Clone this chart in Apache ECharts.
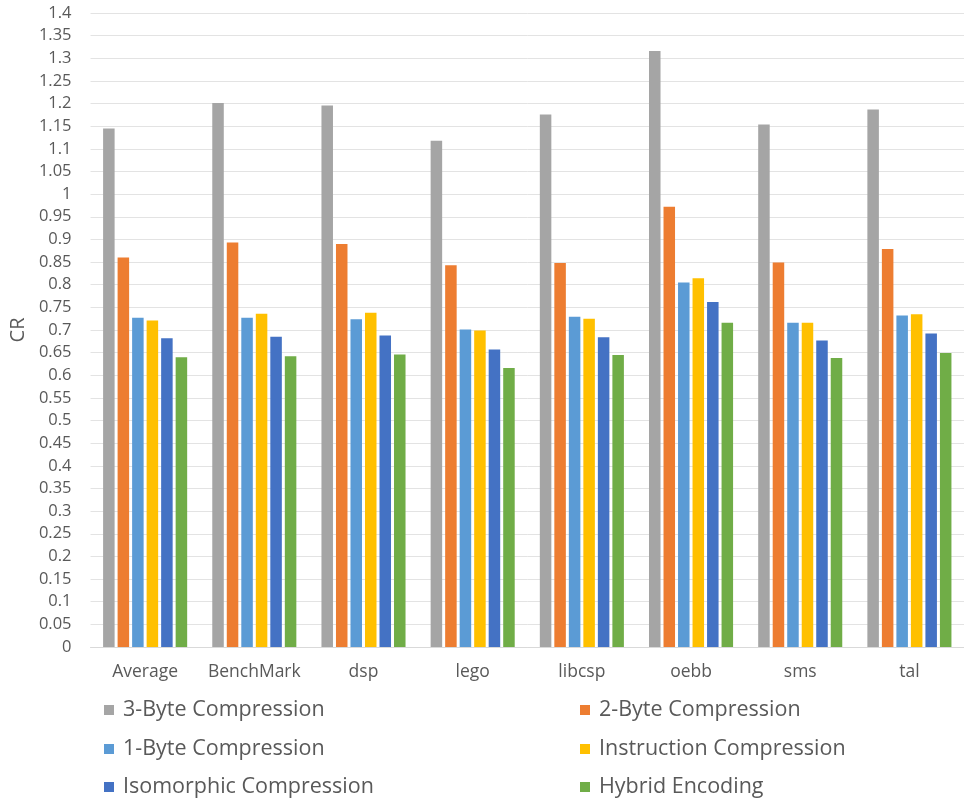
<!DOCTYPE html>
<html>
<head>
<meta charset="utf-8">
<script src="https://cdn.jsdelivr.net/npm/echarts@6/dist/echarts.min.js"></script>
<style>
  html, body { margin: 0; padding: 0; background: #fff; overflow: hidden; }
  #chart { width: 964px; height: 802px; }
</style>
</head>
<body>
<div id="chart"></div>
<script>
// Benchmarks on the x axis
const categories = ['Average', 'BenchMark', 'dsp', 'lego', 'libcsp', 'oebb', 'sms', 'tal'];

// Compression ratio (CR) per scheme
const threeByte   = [1.145, 1.201, 1.196, 1.118, 1.176, 1.316, 1.154, 1.187];
const twoByte     = [0.860, 0.893, 0.890, 0.843, 0.848, 0.972, 0.849, 0.879];
const oneByte     = [0.727, 0.727, 0.724, 0.701, 0.729, 0.805, 0.716, 0.732];
const instruction = [0.721, 0.736, 0.738, 0.699, 0.725, 0.814, 0.716, 0.735];
const isomorphic  = [0.682, 0.685, 0.688, 0.657, 0.684, 0.762, 0.677, 0.692];
const hybrid      = [0.640, 0.642, 0.646, 0.616, 0.645, 0.716, 0.638, 0.649];

const seriesNames = [
  '3-Byte Compression', '2-Byte Compression', '1-Byte Compression',
  'Instruction Compression', 'Isomorphic Compression', 'Hybrid Encoding'
];
const seriesData = [threeByte, twoByte, oneByte, instruction, isomorphic, hybrid];
const colors = ['#A5A5A5', '#ED7D31', '#5B9BD5', '#FFC000', '#4472C4', '#70AD47'];

const FONT = 'Open Sans';
const TEXT = '#595959';

// Legend laid out as two columns of three rows, one legend block per entry
const legendCols = [104, 580];
const legendRows = [699, 738, 776];
const legends = seriesNames.map((name, i) => ({
  data: [name],
  left: legendCols[i % 2],
  top: legendRows[Math.floor(i / 2)],
  padding: 0,
  itemWidth: 10,
  itemHeight: 10,
  icon: 'rect',
  selectedMode: false,
  textStyle: { fontFamily: FONT, fontSize: 21.5, color: TEXT, lineHeight: 22, padding: [0, 0, 0, 4] }
}));

const chart = echarts.init(document.getElementById('chart'), null, { renderer: 'canvas' });
chart.setOption({
  animation: false,
  color: colors,
  // plot area runs slightly past the right edge of the canvas
  grid: { left: 87, right: -5, top: 13, bottom: 155 },
  legend: legends,
  xAxis: {
    type: 'category',
    data: categories,
    axisLine: { lineStyle: { color: '#D9D9D9', width: 1 } },
    axisTick: { show: false },
    axisLabel: { fontFamily: FONT, fontSize: 17.5, color: TEXT, margin: 16, interval: 0 }
  },
  yAxis: {
    type: 'value',
    min: 0,
    max: 1.4,
    interval: 0.05,
    name: 'CR',
    nameLocation: 'middle',
    nameGap: 60,
    nameRotate: 90,
    nameTextStyle: { fontFamily: FONT, fontSize: 20, color: TEXT },
    axisLine: { show: false },
    axisTick: { show: false },
    splitLine: { lineStyle: { color: '#E3E3E3', width: 1 } },
    axisLabel: {
      fontFamily: FONT, fontSize: 16.5, color: TEXT, margin: 19,
      formatter: v => String(Math.round(v * 100) / 100)
    }
  },
  series: seriesNames.map((name, i) => ({
    name,
    type: 'bar',
    data: seriesData[i],
    barGap: '26%',
    barCategoryGap: '23%',
    itemStyle: { color: colors[i] }
  }))
});
</script>
</body>
</html>
